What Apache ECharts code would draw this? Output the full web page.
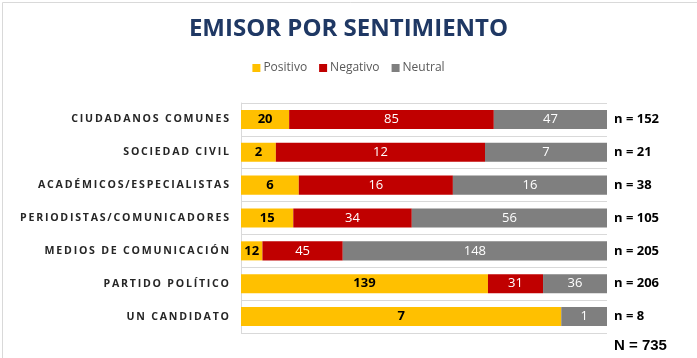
<!DOCTYPE html>
<html><head><meta charset="utf-8">
<script src="https://cdn.jsdelivr.net/npm/echarts@6/dist/echarts.min.js"></script>
<style>html,body{margin:0;padding:0;background:#fff}#c{width:697px;height:358px}</style>
</head><body><div id="c"></div>
<script>
const categories = ['CIUDADANOS COMUNES','SOCIEDAD CIVIL','ACADÉMICOS/ESPECIALISTAS','PERIODISTAS/COMUNICADORES','MEDIOS DE COMUNICACIÓN','PARTIDO POLÍTICO','UN CANDIDATO'];
const positivo = [20, 2, 6, 15, 12, 139, 7];
const negativo = [85, 12, 16, 34, 45, 31, 0];
const neutral  = [47, 7, 16, 56, 148, 36, 1];
const nLabels = ['n = 152','n = 21','n = 38','n = 105','n = 205','n = 206','n = 8'];
const totalLabel = 'N = 735';

const totals = categories.map((_, i) => positivo[i] + negativo[i] + neutral[i]);
const pct = arr => arr.map((v, i) => ({ value: v / totals[i] * 100, raw: v }));

const chart = echarts.init(document.getElementById('c'));
const spaced = s => s.split('').join('\u2009');

function mk(name, arr, color, labelColor, bold) {
  return {
    name, type: 'bar', stack: 'a', barWidth: '58%',
    itemStyle: { color },
    label: {
      show: true, position: 'inside', color: labelColor,
      fontFamily: 'Open Sans', fontSize: 13, fontWeight: bold ? 'bold' : 'normal',
      formatter: p => p.data.raw === 0 ? '' : String(p.data.raw)
    },
    emphasis: { disabled: true },
    data: pct(arr)
  };
}

chart.setOption({
  animation: false,
  title: {
    text: 'EMISOR POR SENTIMIENTO', left: 'center', top: 12,
    textStyle: { fontFamily: 'Open Sans', fontSize: 24, fontWeight: 'bold', color: '#1F3864' }
  },
  legend: {
    top: 57, left: 'center', itemWidth: 8, itemHeight: 8, itemGap: 12,
    icon: 'rect',
    textStyle: { fontFamily: 'Open Sans', fontSize: 12, color: '#595959', padding: [0,0,0,-2] },
    data: ['Positivo','Negativo','Neutral']
  },
  grid: { left: 241, right: 90, top: 103, bottom: 25, containLabel: false },
  xAxis: { type: 'value', min: 0, max: 100, show: false },
  yAxis: [{
    type: 'category', data: categories, inverse: true,
    axisLine: { show: true, lineStyle: { color: '#D9D9D9' } },
    axisTick: { show: false },
    splitLine: { show: true, lineStyle: { color: '#D9D9D9' } },
    axisLabel: {
      margin: 12, color: '#262626', fontFamily: 'Open Sans', fontSize: 10.6, fontWeight: 'bold',
      padding: [3, 0, 0, 0],
      formatter: v => spaced(v)
    }
  }, {
    type: 'category', data: nLabels, inverse: true, position: 'right',
    axisLine: { show: false }, axisTick: { show: false }, splitLine: { show: false },
    axisLabel: { margin: 7, color: '#000', fontFamily: 'Open Sans', fontSize: 13, fontWeight: 'bold', padding: [2, 0, 0, 0] }
  }],
  series: [
    mk('Positivo', positivo, '#FFC000', '#000', true),
    mk('Negativo', negativo, '#C00000', '#fff', false),
    mk('Neutral', neutral, '#7F7F7F', '#fff', false)
  ],
  graphic: [
    { type: 'rect', left: 0, top: 0, shape: { width: 696, height: 357 }, style: { fill: 'none', stroke: '#D9D9D9', lineWidth: 1 }, silent: true },
    { type: 'text', left: 614, top: 338, style: { text: totalLabel, font: 'bold 15px "Liberation Sans"', fill: '#000' } }
  ]
});
</script></body></html>
